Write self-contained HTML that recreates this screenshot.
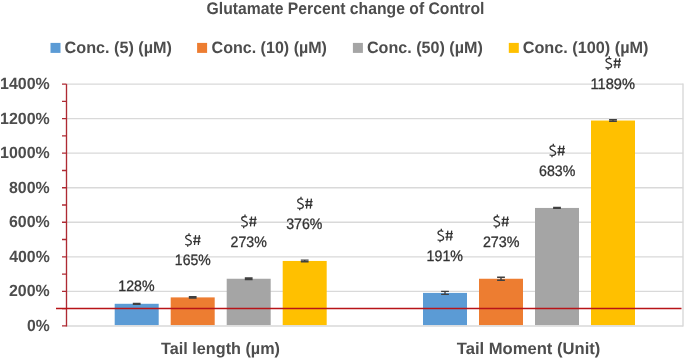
<!DOCTYPE html>
<html><head><meta charset="utf-8"><title>Glutamate Percent change of Control</title>
<style>html,body{margin:0;padding:0;background:#fff;width:685px;height:359px;overflow:hidden}svg{display:block;will-change:transform}text{font-family:"Liberation Sans",sans-serif;text-rendering:geometricPrecision}</style>
</head><body>
<svg width="685" height="359" viewBox="0 0 685 359" font-family="'Liberation Sans', sans-serif">
<rect width="685" height="359" fill="#FFFFFF"/>
<line x1="66.5" y1="291.36" x2="683.2" y2="291.36" stroke="#D9D9D9" stroke-width="1.3"/><line x1="66.5" y1="256.81" x2="683.2" y2="256.81" stroke="#D9D9D9" stroke-width="1.3"/><line x1="66.5" y1="222.27" x2="683.2" y2="222.27" stroke="#D9D9D9" stroke-width="1.3"/><line x1="66.5" y1="187.73" x2="683.2" y2="187.73" stroke="#D9D9D9" stroke-width="1.3"/><line x1="66.5" y1="153.19" x2="683.2" y2="153.19" stroke="#D9D9D9" stroke-width="1.3"/><line x1="66.5" y1="118.64" x2="683.2" y2="118.64" stroke="#D9D9D9" stroke-width="1.3"/><line x1="66.5" y1="84.10" x2="683.2" y2="84.10" stroke="#D9D9D9" stroke-width="1.3"/><line x1="683.0" y1="83.50" x2="683.0" y2="326.60" stroke="#D9D9D9" stroke-width="1.4"/>
<rect x="114.70" y="303.79" width="44.0" height="21.41" fill="#5B9BD5"/><rect x="170.70" y="297.40" width="44.0" height="27.80" fill="#ED7D31"/><rect x="226.70" y="278.75" width="44.0" height="46.45" fill="#A5A5A5"/><rect x="282.70" y="260.96" width="44.0" height="64.24" fill="#FFC000"/><rect x="423.00" y="292.91" width="44.0" height="32.29" fill="#5B9BD5"/><rect x="479.00" y="278.75" width="44.0" height="46.45" fill="#ED7D31"/><rect x="535.00" y="207.94" width="44.0" height="117.26" fill="#A5A5A5"/><rect x="591.00" y="120.54" width="44.0" height="204.66" fill="#FFC000"/>
<line x1="66.5" y1="326.0" x2="683.2" y2="326.0" stroke="#D9D9D9" stroke-width="1.6"/>
<path d="M132.80 303.39H140.60M132.80 304.19H140.60M136.70 303.39V304.19" stroke="#404040" stroke-width="1.4" fill="none"/><path d="M188.80 296.80H196.60M188.80 298.00H196.60M192.70 296.80V298.00" stroke="#404040" stroke-width="1.4" fill="none"/><path d="M244.80 278.05H252.60M244.80 279.45H252.60M248.70 278.05V279.45" stroke="#404040" stroke-width="1.4" fill="none"/><path d="M300.80 260.16H308.60M300.80 261.76H308.60M304.70 260.16V261.76" stroke="#404040" stroke-width="1.4" fill="none"/><path d="M441.10 291.41H448.90M441.10 294.41H448.90M445.00 291.41V294.41" stroke="#404040" stroke-width="1.4" fill="none"/><path d="M497.10 277.25H504.90M497.10 280.25H504.90M501.00 277.25V280.25" stroke="#404040" stroke-width="1.4" fill="none"/><path d="M553.10 207.54H560.90M553.10 208.34H560.90M557.00 207.54V208.34" stroke="#404040" stroke-width="1.4" fill="none"/><path d="M609.10 119.74H616.90M609.10 121.34H616.90M613.00 119.74V121.34" stroke="#404040" stroke-width="1.4" fill="none"/>
<line x1="66.5" y1="84.10" x2="66.5" y2="326.50" stroke="#AE2A33" stroke-width="1.35"/><path d="M62 325.90H66.5M62 308.63H66.5M62 291.36H66.5M62 274.09H66.5M62 256.81H66.5M62 239.54H66.5M62 222.27H66.5M62 205.00H66.5M62 187.73H66.5M62 170.46H66.5M62 153.19H66.5M62 135.91H66.5M62 118.64H66.5M62 101.37H66.5M62 84.10H66.5" stroke="#AE2A33" stroke-width="1.35" fill="none"/>
<line x1="56" y1="308.45" x2="681.5" y2="308.45" stroke="#B81418" stroke-width="1.4"/>
<rect x="50.5" y="42.9" width="10" height="10" fill="#5B9BD5"/><rect x="197.1" y="42.9" width="10" height="10" fill="#ED7D31"/><rect x="352.9" y="42.9" width="10" height="10" fill="#A5A5A5"/><rect x="508.8" y="42.9" width="10" height="10" fill="#FFC000"/>
<text id="title" x="206.56" y="13.70" font-size="16.7" font-weight="bold" fill="#4D4D4D" textLength="277.84" lengthAdjust="spacingAndGlyphs">Glutamate Percent change of Control</text>
<text id="leg0" x="64.54" y="52.80" font-size="16.4" font-weight="bold" fill="#4D4D4D" textLength="107.46" lengthAdjust="spacingAndGlyphs">Conc. (5) (µM)</text>
<text id="leg1" x="211.54" y="52.80" font-size="16.4" font-weight="bold" fill="#4D4D4D" textLength="115.45" lengthAdjust="spacingAndGlyphs">Conc. (10) (µM)</text>
<text id="leg2" x="366.94" y="52.80" font-size="16.4" font-weight="bold" fill="#4D4D4D" textLength="115.85" lengthAdjust="spacingAndGlyphs">Conc. (50) (µM)</text>
<text id="leg3" x="522.73" y="52.80" font-size="16.4" font-weight="bold" fill="#4D4D4D" textLength="125.77" lengthAdjust="spacingAndGlyphs">Conc. (100) (µM)</text>
<text id="y0" x="26.99" y="330.90" font-size="16.3" font-weight="bold" fill="#4D4D4D" textLength="22.73" lengthAdjust="spacingAndGlyphs">0%</text>
<text id="y200" x="8.96" y="296.36" font-size="16.3" font-weight="bold" fill="#4D4D4D" textLength="40.77" lengthAdjust="spacingAndGlyphs">200%</text>
<text id="y400" x="9.26" y="261.81" font-size="16.3" font-weight="bold" fill="#4D4D4D" textLength="40.46" lengthAdjust="spacingAndGlyphs">400%</text>
<text id="y600" x="8.93" y="227.27" font-size="16.3" font-weight="bold" fill="#4D4D4D" textLength="40.80" lengthAdjust="spacingAndGlyphs">600%</text>
<text id="y800" x="9.01" y="192.73" font-size="16.3" font-weight="bold" fill="#4D4D4D" textLength="40.72" lengthAdjust="spacingAndGlyphs">800%</text>
<text id="y1000" x="0.01" y="158.19" font-size="16.3" font-weight="bold" fill="#4D4D4D" textLength="49.70" lengthAdjust="spacingAndGlyphs">1000%</text>
<text id="y1200" x="0.01" y="123.64" font-size="16.3" font-weight="bold" fill="#4D4D4D" textLength="49.70" lengthAdjust="spacingAndGlyphs">1200%</text>
<text id="y1400" x="0.01" y="89.10" font-size="16.3" font-weight="bold" fill="#4D4D4D" textLength="49.70" lengthAdjust="spacingAndGlyphs">1400%</text>
<text id="p10" x="118.32" y="291.00" font-size="15.1" font-weight="normal" fill="#333333" textLength="36.28" lengthAdjust="spacingAndGlyphs" stroke="#333333" stroke-width="0.3">128%</text>
<text id="p11" x="174.83" y="265.40" font-size="15.1" font-weight="normal" fill="#333333" textLength="35.87" lengthAdjust="spacingAndGlyphs" stroke="#333333" stroke-width="0.3">165%</text>
<text id="p12" x="230.59" y="246.75" font-size="15.1" font-weight="normal" fill="#333333" textLength="36.21" lengthAdjust="spacingAndGlyphs" stroke="#333333" stroke-width="0.3">273%</text>
<text id="p13" x="286.26" y="228.96" font-size="15.1" font-weight="normal" fill="#333333" textLength="36.14" lengthAdjust="spacingAndGlyphs" stroke="#333333" stroke-width="0.3">376%</text>
<text id="p20" x="426.62" y="260.91" font-size="15.1" font-weight="normal" fill="#333333" textLength="36.39" lengthAdjust="spacingAndGlyphs" stroke="#333333" stroke-width="0.3">191%</text>
<text id="p21" x="482.88" y="246.75" font-size="15.1" font-weight="normal" fill="#333333" textLength="36.63" lengthAdjust="spacingAndGlyphs" stroke="#333333" stroke-width="0.3">273%</text>
<text id="p22" x="538.99" y="175.94" font-size="15.1" font-weight="normal" fill="#333333" textLength="36.32" lengthAdjust="spacingAndGlyphs" stroke="#333333" stroke-width="0.3">683%</text>
<text id="p23" x="590.49" y="88.54" font-size="15.1" font-weight="normal" fill="#333333" textLength="44.43" lengthAdjust="spacingAndGlyphs" stroke="#333333" stroke-width="0.3">1189%</text>
<text id="cat0" x="161.12" y="354.40" font-size="16.5" font-weight="bold" fill="#4D4D4D" textLength="118.87" lengthAdjust="spacingAndGlyphs">Tail length (µm)</text>
<text id="cat1" x="456.82" y="354.40" font-size="16.5" font-weight="bold" fill="#4D4D4D" textLength="143.50" lengthAdjust="spacingAndGlyphs">Tail Moment (Unit)</text>
<g stroke="#333333" fill="none" stroke-width="1.3"><path transform="translate(192.70 245.00)" d="M-1.7 -9.1C-2.6 -9.8 -7.1 -10.3 -7.0 -7.4C-6.9 -4.9 -1.3 -5.6 -1.4 -2.6C-1.5 0.4 -5.8 0.2 -7.4 -0.8M-3.7 -11.8V-9.7M-5.0 -0.2V1.8M2.9 -9.9L1.8 0M6.7 -9.9L5.6 0M0.6 -6.9H7.9M0.4 -3.3H7.7"/><path transform="translate(248.70 226.35)" d="M-1.7 -9.1C-2.6 -9.8 -7.1 -10.3 -7.0 -7.4C-6.9 -4.9 -1.3 -5.6 -1.4 -2.6C-1.5 0.4 -5.8 0.2 -7.4 -0.8M-3.7 -11.8V-9.7M-5.0 -0.2V1.8M2.9 -9.9L1.8 0M6.7 -9.9L5.6 0M0.6 -6.9H7.9M0.4 -3.3H7.7"/><path transform="translate(304.70 208.56)" d="M-1.7 -9.1C-2.6 -9.8 -7.1 -10.3 -7.0 -7.4C-6.9 -4.9 -1.3 -5.6 -1.4 -2.6C-1.5 0.4 -5.8 0.2 -7.4 -0.8M-3.7 -11.8V-9.7M-5.0 -0.2V1.8M2.9 -9.9L1.8 0M6.7 -9.9L5.6 0M0.6 -6.9H7.9M0.4 -3.3H7.7"/><path transform="translate(445.00 240.51)" d="M-1.7 -9.1C-2.6 -9.8 -7.1 -10.3 -7.0 -7.4C-6.9 -4.9 -1.3 -5.6 -1.4 -2.6C-1.5 0.4 -5.8 0.2 -7.4 -0.8M-3.7 -11.8V-9.7M-5.0 -0.2V1.8M2.9 -9.9L1.8 0M6.7 -9.9L5.6 0M0.6 -6.9H7.9M0.4 -3.3H7.7"/><path transform="translate(501.00 226.35)" d="M-1.7 -9.1C-2.6 -9.8 -7.1 -10.3 -7.0 -7.4C-6.9 -4.9 -1.3 -5.6 -1.4 -2.6C-1.5 0.4 -5.8 0.2 -7.4 -0.8M-3.7 -11.8V-9.7M-5.0 -0.2V1.8M2.9 -9.9L1.8 0M6.7 -9.9L5.6 0M0.6 -6.9H7.9M0.4 -3.3H7.7"/><path transform="translate(557.00 155.54)" d="M-1.7 -9.1C-2.6 -9.8 -7.1 -10.3 -7.0 -7.4C-6.9 -4.9 -1.3 -5.6 -1.4 -2.6C-1.5 0.4 -5.8 0.2 -7.4 -0.8M-3.7 -11.8V-9.7M-5.0 -0.2V1.8M2.9 -9.9L1.8 0M6.7 -9.9L5.6 0M0.6 -6.9H7.9M0.4 -3.3H7.7"/><path transform="translate(613.00 68.14)" d="M-1.7 -9.1C-2.6 -9.8 -7.1 -10.3 -7.0 -7.4C-6.9 -4.9 -1.3 -5.6 -1.4 -2.6C-1.5 0.4 -5.8 0.2 -7.4 -0.8M-3.7 -11.8V-9.7M-5.0 -0.2V1.8M2.9 -9.9L1.8 0M6.7 -9.9L5.6 0M0.6 -6.9H7.9M0.4 -3.3H7.7"/></g>
</svg>
</body></html>
